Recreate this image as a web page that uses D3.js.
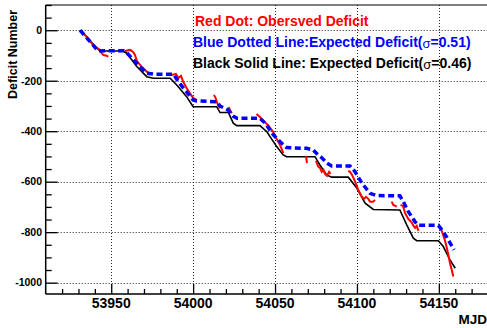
<!DOCTYPE html>
<html>
<head>
<meta charset="utf-8">
<script src="https://cdn.jsdelivr.net/npm/d3@7/dist/d3.min.js"></script>
<style>
  html, body { margin: 0; padding: 0; background: #fff; }
  svg { display: block; }
  text { font-family: "Liberation Sans", Arial, Helvetica, sans-serif; font-weight: bold; }
</style>
</head>
<body>
<svg id="chart" width="487" height="328"></svg>
<script>
// Axis tick values
const xTicks = [53950, 54000, 54050, 54100, 54150];
const yTicks = [0, -200, -400, -600, -800, -1000];

// Expected deficit, sigma = 0.46 (black solid line): [MJD, deficit]
const expected046 = [
  [53931, 0], [53943, -82], [53957, -82], [53959.5, -91], [53965.6, -144],
  [53971.7, -184], [53975.7, -190], [53986, -190], [53990, -217], [53996, -263],
  [54000, -303], [54014.4, -303], [54016.4, -326], [54021.5, -326], [54024.5, -368],
  [54026.6, -378], [54040.8, -378], [54045, -402], [54051, -461], [54055, -494],
  [54057, -501], [54074.4, -501], [54077.4, -534], [54081.5, -573], [54084.6, -582],
  [54094.7, -582], [54100, -626], [54105, -685], [54110, -710], [54126.2, -712],
  [54130.4, -771], [54134.4, -824], [54136.5, -834], [54149.7, -834], [54152.7, -857],
  [54156.8, -910], [54160, -943]
];

// Expected deficit, sigma = 0.51 (blue dotted line): [MJD, deficit]
const expected051 = [
  [53931, 0], [53942, -82], [53957.4, -81], [53959.4, -89], [53967.6, -144],
  [53971.7, -170], [53975.7, -174], [53988, -174], [53991, -204], [53995, -237],
  [54000, -276], [54002.2, -280], [54014.4, -283], [54016.4, -300], [54021.3, -316],
  [54024.3, -340], [54026.8, -349], [54040.8, -349], [54044, -368], [54049, -415],
  [54053, -441], [54057, -465], [54069.3, -468], [54073.2, -474], [54076.2, -494],
  [54078.7, -506], [54081.7, -527], [54084.6, -538], [54095.8, -538], [54098.8, -560],
  [54103, -606], [54108, -646], [54112, -655], [54126.2, -656], [54128.3, -679],
  [54131.4, -719], [54135.4, -758], [54137.5, -773], [54149.7, -773], [54151.8, -791],
  [54154.8, -820], [54159.3, -870]
];

// Observed deficit (red), one array per observing stretch: [MJD, deficit]
const observed = [
  [[53931, -2], [53933.4, -15], [53936, -32], [53938.1, -52], [53940.1, -65],
   [53943.2, -78], [53944.2, -91], [53945.2, -98], [53947.2, -101], [53948.2, -105]],
  [[53958.4, -82], [53961.5, -78], [53963.3, -86], [53964.5, -98], [53965.7, -122],
   [53968.5, -144], [53971.7, -164], [53973.7, -173]],
  [[53987.1, -177], [53989.5, -173], [53991, -189], [53992.6, -181], [53994, -205],
   [53996.1, -230], [53998.1, -250], [54000.1, -269], [54002.2, -276]],
  [[54012.7, -256], [54013.7, -268], [54014.4, -284], [54015.4, -298], [54016.4, -309]],
  [[54021.6, -304], [54022.5, -316], [54023.6, -329]],
  [[54038.7, -332], [54040.8, -344], [54042.8, -359], [54045.9, -377], [54048.9, -403],
   [54051, -431], [54053, -454], [54055.1, -487]],
  [[54068.9, -498], [54069.5, -526]],
  [[54075, -518], [54076.4, -540], [54077.5, -546], [54078.5, -561], [54079.5, -553],
   [54080.5, -569], [54081.7, -577], [54083, -561], [54083.9, -569]],
  [[54094.6, -557], [54095.8, -561], [54097, -573], [54098.9, -600], [54100.8, -633],
   [54102.9, -659], [54104.3, -668], [54105.5, -660], [54106.9, -668], [54108, -680],
   [54109.8, -680], [54111, -672]],
  [[54121.2, -679], [54122.2, -692], [54124.3, -699]],
  [[54126.6, -692], [54128.1, -696], [54129.4, -725], [54131.4, -748], [54133.4, -761],
   [54134.4, -773], [54135.5, -783], [54136.5, -775], [54137.5, -795]],
  [[54149.7, -777], [54150.7, -783], [54151.8, -795], [54152.7, -813], [54153.8, -835],
   [54154.7, -858], [54155.8, -890], [54156.8, -923], [54157.9, -950], [54158.8, -976]]
];

const legendLines = [
  { text: "Red Dot: Obersved Deficit", color: "#ff0000" },
  { text: "Blue Dotted Line:Expected Deficit(", sigma: "=0.51)", color: "#0000ff" },
  { text: "Black Solid Line: Expected Deficit(", sigma: "=0.46)", color: "#000000" }
];

const svg = d3.select("#chart");
const plotL = 45.7, plotR = 488, plotT = 5, plotB = 294;

const x = d3.scaleLinear().domain([53910, 54180]).range([plotL, plotR]);
const y = d3.scaleLinear().domain([-1045, 100]).range([plotB, plotT]);

// Dotted grid
const grid = svg.append("g").attr("stroke", "#222").attr("stroke-width", 1)
  .attr("stroke-dasharray", "1,2").attr("fill", "none");
grid.selectAll(".gx").data(xTicks).join("line")
  .attr("x1", d => Math.round(x(d)) + 0.5).attr("x2", d => Math.round(x(d)) + 0.5)
  .attr("y1", plotT).attr("y2", plotB);
grid.selectAll(".gy").data(yTicks).join("line")
  .attr("x1", plotL).attr("x2", plotR)
  .attr("y1", d => Math.round(y(d)) + 0.5).attr("y2", d => Math.round(y(d)) + 0.5);

// Axes with inward ticks
const xMinor = d3.range(53920, 54181, 10).filter(v => !xTicks.includes(v));
const yMinor = d3.range(-1000, 101, 50).filter(v => !yTicks.includes(v));

const xAxis = d3.axisTop(x).tickValues(xTicks).tickSize(10).tickFormat("");
const xAxisMinor = d3.axisTop(x).tickValues(xMinor).tickSize(5).tickFormat("");
const yAxis = d3.axisRight(y).tickValues(yTicks).tickSize(12).tickFormat("");
const yAxisMinor = d3.axisRight(y).tickValues(yMinor).tickSize(6).tickFormat("");

function styleAxis(g) {
  g.selectAll("path").attr("stroke", "#000").attr("stroke-width", 1.5);
  g.selectAll("line").attr("stroke", "#000").attr("stroke-width", 1.3);
}
svg.append("g").attr("transform", `translate(0,${plotB})`).call(xAxis).call(styleAxis)
  .select(".domain").attr("d", `M${plotL},0H${plotR}`);
svg.append("g").attr("transform", `translate(0,${plotB})`).call(xAxisMinor).call(styleAxis)
  .select(".domain").remove();
svg.append("g").attr("transform", `translate(${plotL},0)`).call(yAxis).call(styleAxis)
  .select(".domain").attr("d", `M0,${plotT}V${plotB}`);
svg.append("g").attr("transform", `translate(${plotL},0)`).call(yAxisMinor).call(styleAxis)
  .select(".domain").remove();

// Top frame
svg.append("line").attr("x1", plotL).attr("x2", plotR).attr("y1", plotT).attr("y2", plotT)
  .attr("stroke", "#000").attr("stroke-width", 1);

// Tick labels
svg.append("g").selectAll("text").data(xTicks).join("text")
  .attr("x", d => x(d)).attr("y", 308).attr("text-anchor", "middle")
  .attr("font-size", "14px").text(d => d);
svg.append("g").selectAll("text").data(yTicks).join("text")
  .attr("x", 42).attr("y", d => y(d)).attr("dy", "0.36em").attr("text-anchor", "end")
  .attr("font-size", "10.5px").text(d => d);

// Axis titles
svg.append("text").attr("x", 487).attr("y", 324).attr("text-anchor", "end")
  .attr("font-size", "13.5px").text("MJD");
svg.append("text").attr("transform", "translate(16.5,10) rotate(-90)")
  .attr("text-anchor", "end").attr("font-size", "12.5px").text("Deficit Number");

// Series
const line = d3.line().x(d => x(d[0])).y(d => y(d[1]));

svg.append("path").datum(expected046).attr("d", line)
  .attr("fill", "none").attr("stroke", "#000").attr("stroke-width", 1.6);

svg.append("g").selectAll("path").data(observed).join("path")
  .attr("d", line).attr("fill", "none").attr("stroke", "#ff0000")
  .attr("stroke-width", 2).attr("stroke-linejoin", "miter");

svg.append("path").datum(expected051).attr("d", line)
  .attr("fill", "none").attr("stroke", "#0000ff").attr("stroke-width", 3.5)
  .attr("stroke-dasharray", "6,3.5");

// Legend
const legend = svg.append("g");
legendLines.forEach((l, i) => {
  const t = legend.append("text").attr("x", i === 0 ? 195 : 193).attr("y", 26 + i * 21)
    .attr("font-size", "14px").attr("fill", l.color);
  t.append("tspan").text(l.text);
  if (l.sigma) {
    t.append("tspan").attr("font-weight", "normal").attr("font-size", "13px")
      .attr("dy", "1").text("σ");
    t.append("tspan").attr("dy", "-1").text(l.sigma);
  }
});
</script>
</body>
</html>
